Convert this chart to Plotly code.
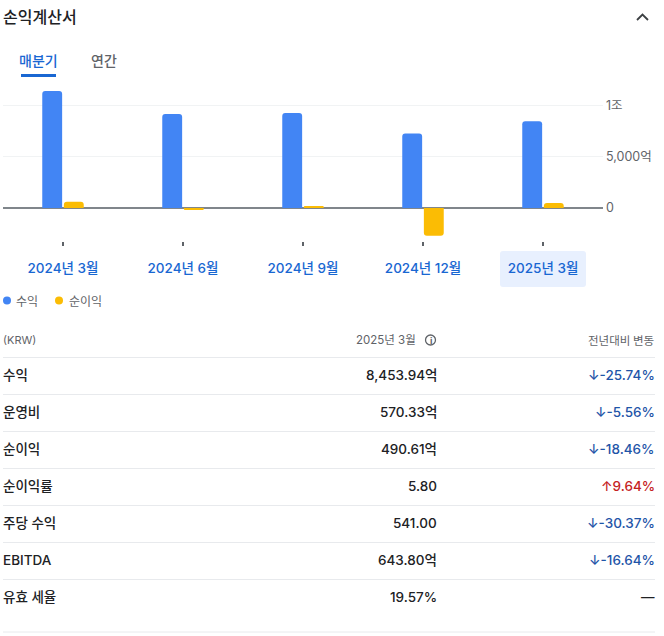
# -*- coding: utf-8 -*-
import plotly.graph_objects as go

# ===== DATA =====
quarters = ["2024년 3월", "2024년 6월", "2024년 9월", "2024년 12월", "2025년 3월"]
revenue = [11420, 9170, 9260, 7270, 8453.94]
net_income = [601.7, -190, 110, -2700, 490.61]
y_ticks = [0, 5000, 10000]
y_tick_labels = ["0", "5,000억", "1조"]

row_labels = ["수익", "운영비", "순이익", "순이익률", "주당 수익", "EBITDA", "유효 세율"]
row_values = ["8,453.94억", "570.33억", "490.61억", "5.80", "541.00", "643.80억", "19.57%"]
row_changes = ["↓-25.74%", "↓-5.56%", "↓-18.46%", "↑9.64%", "↓-30.37%", "↓-16.64%", "—"]
row_lines = [357.5, 394.5, 431.5, 468.5, 505.5, 542.5, 579.5, 632]

# ===== COLOURS / FONTS =====
BLUE = "#4285f4"
GOLD = "#fbbc04"
LINK = "#1967d2"
DARK = "#202124"
GREY = "#5f6368"
DOWN = "#1f55a8"
UP = "#c5221f"
RULE = "#e8eaed"
FONT = "Inter, 'Noto Sans CJK KR', sans-serif"
KR_FONT = "'Noto Sans CJK KR', sans-serif"

# plot area in page pixels
LEFT, RIGHT, TOP, BOTTOM = 3, 603, 85, 241
W, H = 664, 636


def px(x):
    return (x - LEFT) / (RIGHT - LEFT)


def py(y):
    return (BOTTOM - y) / (BOTTOM - TOP)


def label(x, y, text, anchor="left", size=13, color=DARK, weight=400, family=FONT):
    return dict(text=text, x=px(x), y=py(y), xref="paper", yref="paper", xanchor=anchor,
                yanchor="middle", showarrow=False, align=anchor,
                font=dict(family=family, size=size, color=color, weight=weight),
                borderpad=0, borderwidth=0)


def rule(y, x0=3, x1=655, color=RULE, width=1):
    return dict(type="line", xref="paper", yref="paper", x0=px(x0), x1=px(x1), y0=py(y), y1=py(y),
                line=dict(color=color, width=width))


fig = go.Figure()
fig.add_bar(x=quarters, y=revenue, name="수익", marker=dict(color=BLUE, line_width=0))
fig.add_bar(x=quarters, y=net_income, name="순이익", marker=dict(color=GOLD, line_width=0))

annotations = [
    label(3, 15.5, "손익계산서", size=16, family=KR_FONT, weight=500),
    label(38.5, 60, "매분기", "center", 14, LINK, 500, KR_FONT),
    label(103.5, 60, "연간", "center", 14, GREY, 500, KR_FONT),
    label(16, 300.5, "수익", size=12, color=GREY, family=KR_FONT),
    label(69, 300.5, "순이익", size=12, color=GREY, family=KR_FONT),
    label(3, 340, "(KRW)", size=11, color=GREY),
    label(416, 340, "2025년 3월", "right", 11.5, GREY),
    label(430.5, 340, "i", "center", 9, GREY, 700),
    label(654, 340, "전년대비 변동", "right", 11.5, GREY, family=KR_FONT),
]

shapes = [
    # selected quarter highlight
    dict(type="path", xref="paper", yref="paper", layer="below",
         path=f"M{px(503)},{py(251)} L{px(583)},{py(251)} Q{px(586)},{py(251)} {px(586)},{py(254)} "
              f"L{px(586)},{py(284)} Q{px(586)},{py(287)} {px(583)},{py(287)} "
              f"L{px(503)},{py(287)} Q{px(500)},{py(287)} {px(500)},{py(284)} "
              f"L{px(500)},{py(254)} Q{px(500)},{py(251)} {px(503)},{py(251)}",
         fillcolor="#e8f0fe", line_width=0),
    # tab underline
    dict(type="line", xref="paper", yref="paper", x0=px(21), x1=px(56), y0=py(75.5), y1=py(75.5),
         line=dict(color=LINK, width=3)),
    # collapse chevron
    dict(type="path", xref="paper", yref="paper",
         path=f"M{px(637)},{py(20)} L{px(642.5)},{py(14.5)} L{px(648)},{py(20)}",
         line=dict(color="#3c4043", width=1.8)),
    # legend dots
    dict(type="circle", xref="paper", yref="paper", x0=px(3), x1=px(11), y0=py(296.5), y1=py(304.5),
         fillcolor=BLUE, line_width=0),
    dict(type="circle", xref="paper", yref="paper", x0=px(55), x1=px(63), y0=py(296.5), y1=py(304.5),
         fillcolor=GOLD, line_width=0),
    # info icon
    dict(type="circle", xref="paper", yref="paper", x0=px(425.5), x1=px(435.5), y0=py(335), y1=py(345),
         line=dict(color=GREY, width=1.3)),
]
shapes += [rule(y) for y in row_lines]

for i, y_mid in enumerate(row_lines[:-1]):
    y_mid += 17.5
    change = row_changes[i]
    colour = UP if change.startswith("↑") else DOWN if change.startswith("↓") else DARK
    annotations.append(label(3, y_mid, row_labels[i], size=13.5, weight=500))
    annotations.append(label(437, y_mid, row_values[i], "right", 13.5, weight=500))
    annotations.append(label(655, y_mid, change, "right", 13.5, colour, 500))

fig.update_layout(
    width=W, height=H,
    margin=dict(l=LEFT, r=W - RIGHT, t=TOP, b=H - BOTTOM, pad=0),
    paper_bgcolor="white", plot_bgcolor="white",
    barmode="group", bargap=0.64, bargroupgap=0.08, barcornerradius=3,
    showlegend=False,
    font=dict(family=FONT),
    annotations=annotations,
    shapes=shapes,
    xaxis=dict(
        type="category", showgrid=False, zeroline=False, showline=False,
        ticks="outside", ticklen=4, tickwidth=2, tickcolor="#5f6368",
        ticklabelstandoff=11,
        tickfont=dict(family=FONT, size=13.5, color=LINK, weight=500),
    ),
    yaxis=dict(
        side="right", range=[-3220, 12000], tickvals=y_ticks, ticktext=y_tick_labels,
        showgrid=True, gridcolor="#f1f3f4", gridwidth=1,
        zeroline=True, zerolinecolor="#80868b", zerolinewidth=2,
        ticks="", showline=False, ticklabelstandoff=2,
        tickfont=dict(family=FONT, size=12.5, color=GREY),
    ),
)

fig.write_html("out.html", config={"displayModeBar": False},
               post_script="document.body.style.margin='0';")
